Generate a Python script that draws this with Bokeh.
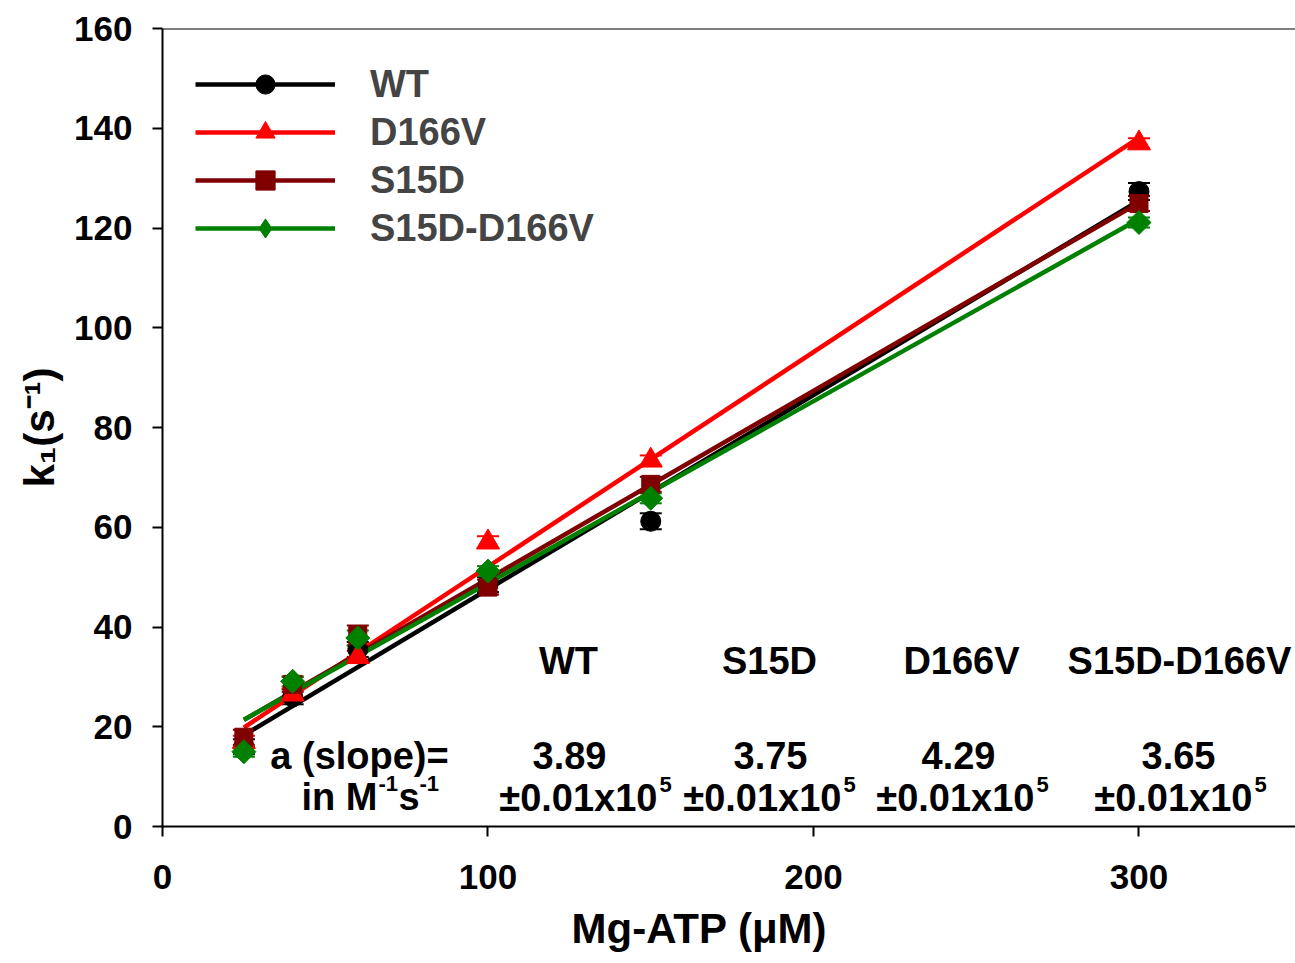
import numpy as np
from bokeh.plotting import figure
from bokeh.models import (ColumnDataSource, Range1d, Whisker, TeeHead, Label, Span,
                          Legend, LegendItem, FixedTicker, Title)
from bokeh.embed import file_html
from bokeh.resources import INLINE

# ---------------- data ----------------
atp = [25, 40, 60, 100, 150, 300]            # Mg-ATP (uM)
wt = [16.0, 26.0, 35.5, 48.5, 61.2, 127.3]
wt_err = [1.5, 1.5, 1.5, 1.5, 1.6, 1.7]
d166v = [17.0, 26.5, 34.0, 57.0, 73.4, 137.0]
d166v_err = [1.2, 1.2, 1.2, 1.2, 1.0, 1.0]
s15d = [17.9, 28.5, 38.3, 48.0, 68.6, 124.9]
s15d_err = [1.5, 1.5, 2.0, 1.5, 1.5, 1.5]
s15d_d166v = [15.0, 29.1, 37.8, 51.2, 65.8, 121.1]
s15d_d166v_err = [1.0, 1.0, 1.5, 1.0, 1.0, 1.0]

series_names = ["WT", "D166V", "S15D", "S15D-D166V"]
series_vals = [wt, d166v, s15d, s15d_d166v]
series_errs = [wt_err, d166v_err, s15d_err, s15d_d166v_err]

table_names = ["WT", "S15D", "D166V", "S15D-D166V"]
table_slopes = ["3.89", "3.75", "4.29", "3.65"]
slope_error = "\u00b10.01x10"
slope_exp = "5"

x_ticks = [0, 100, 200, 300]
y_ticks = [0, 20, 40, 60, 80, 100, 120, 140, 160]
x_title = "Mg-ATP (\u03bcM)"
y_title = "k\u2081(s\u207b\u00b9)"

# ---------------- style ----------------
colors = ["#000000", "#FF0000", "#800000", "#008000"]
markers = ["circle", "triangle", "square", "square"]
msizes = [20, 23, 18, 17]
mangles = [0, 0, 0, np.pi / 4]
legend_markers = ["circle", "triangle", "square", "diamond"]
FONT = "Liberation Sans"

p = figure(width=1295, height=963, output_backend="svg", toolbar_location=None,
           x_range=Range1d(0, 348.08), y_range=Range1d(0, 160),
           min_border_left=162, min_border_right=0, min_border_top=28,
           min_border_bottom=137)
p.outline_line_color = None
p.grid.visible = False
p.background_fill_color = "white"
p.border_fill_color = "white"

for ax in (p.xaxis[0], p.yaxis[0]):
    ax.axis_line_width = 2
    ax.axis_line_color = "black"
    ax.major_tick_line_width = 2
    ax.major_tick_line_color = "black"
    ax.major_tick_out = 10
    ax.major_tick_in = 0
    ax.minor_tick_line_color = None
    ax.major_label_text_font = FONT
    ax.major_label_text_font_style = "bold"
    ax.major_label_text_font_size = "35px"
    ax.major_label_text_color = "black"
p.xaxis.ticker = FixedTicker(ticks=x_ticks)
p.yaxis.ticker = FixedTicker(ticks=y_ticks)
p.xaxis.major_label_standoff = 28
p.yaxis.major_label_standoff = 20

p.add_layout(Span(location=160, dimension="width", line_color="black", line_width=2))

# axis titles
p.add_layout(Title(text=x_title, align="left", offset=409, text_font=FONT,
                   text_font_style="bold", text_font_size="42px", text_color="black",
                   standoff=23), "below")
p.add_layout(Title(text=y_title, align="center", text_font=FONT,
                   text_font_style="bold", text_font_size="42px", text_color="black",
                   standoff=17), "left")

# fit lines
line_rs = []
for vals, c in zip(series_vals, colors):
    slope, icpt = np.polyfit(atp, vals, 1)
    xs = [min(atp), max(atp)]
    ys = [slope * xv + icpt for xv in xs]
    line_rs.append(p.line(xs, ys, line_color=c, line_width=4.5))

# error bars + markers
legend_rs = []
for vals, errs, c, m, s, a, lm in zip(series_vals, series_errs, colors, markers,
                                      msizes, mangles, legend_markers):
    src = ColumnDataSource(dict(x=atp, y=vals,
                                lo=[v - e for v, e in zip(vals, errs)],
                                hi=[v + e for v, e in zip(vals, errs)]))
    w = Whisker(base="x", lower="lo", upper="hi", source=src, line_color=c, line_width=2,
                upper_head=TeeHead(size=22, line_color=c, line_width=2),
                lower_head=TeeHead(size=22, line_color=c, line_width=2))
    p.add_layout(w)
    proxy = None
    if lm != m:
        # narrow diamond drawn underneath the rotated square; it gives the legend key
        proxy = p.scatter("x", "y", source=src, marker=lm, size=19, fill_color=c,
                          line_color=c)
    sr = p.scatter("x", "y", source=src, marker=m, size=s, angle=a,
                   fill_color=c, line_color=c)
    legend_rs.append(proxy if proxy is not None else sr)

items = [LegendItem(label=n, renderers=[lr, sr])
         for n, lr, sr in zip(series_names, line_rs, legend_rs)]
legend = Legend(items=items, location=(33, 574), margin=0, padding=0, spacing=0,
                glyph_width=140, glyph_height=48, label_height=48, label_standoff=35,
                label_text_font=FONT, label_text_font_style="bold",
                label_text_font_size="38px", border_line_color=None,
                background_fill_alpha=0)
p.add_layout(legend)


def txt(sx, sy, s, size=38, align="center"):
    p.add_layout(Label(x=sx, y=sy, x_units="screen", y_units="screen", text=s,
                       text_font=FONT, text_font_style="bold",
                       text_font_size=f"{size}px", text_align=align,
                       text_baseline="alphabetic", text_color="black"))


# table of slopes (screen units relative to frame)
head_x = [406, 607, 799, 1017]
val_x = [407, 608, 796, 1016]
err_end = [495, 679, 872, 1090]
for name, hx, sl, vx, ex in zip(table_names, head_x, table_slopes, val_x, err_end):
    txt(hx, 166, name)
    txt(vx, 71, sl)
    txt(ex, 29, slope_error, align="right")
    txt(ex + 2, 42, slope_exp, size=22, align="left")
txt(197, 71, "a (slope)=")
txt(215, 30, "in M", align="right")
txt(216, 43, "-1", size=22, align="left")
txt(236, 30, "s", align="left")
txt(257, 43, "-1", size=22, align="left")

open("out.html", "w").write(file_html(p, INLINE))
